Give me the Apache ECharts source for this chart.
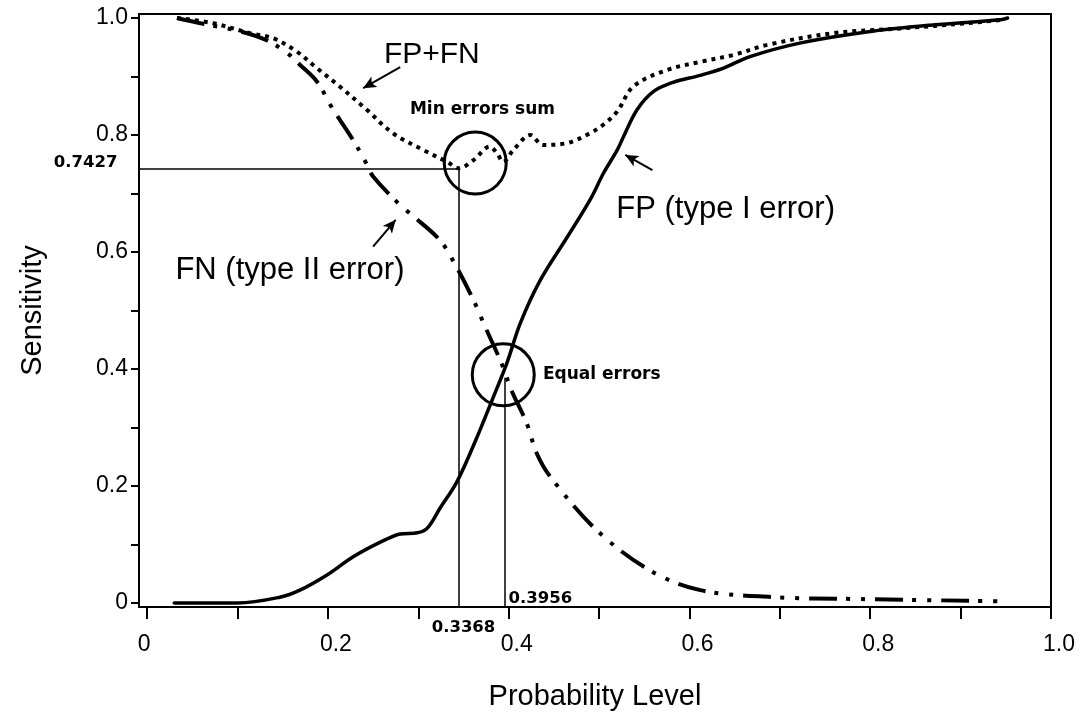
<!DOCTYPE html>
<html>
<head>
<meta charset="utf-8">
<script src="https://cdn.jsdelivr.net/npm/echarts@6/dist/echarts.min.js"></script>
<style>
    html, body { margin: 0; padding: 0; background: #fff; }
    #chart { width: 1080px; height: 724px; }
</style>
</head>
<body>
<div id="chart"></div>
<script>
// ticks / labels
var xTicks = [0, 0.1, 0.2, 0.3, 0.4, 0.5, 0.6, 0.7, 0.8, 0.9, 1.0];
var xLabels = [0, 0.2, 0.4, 0.6, 0.8, 1.0];
var yTicks = [0, 0.1, 0.2, 0.3, 0.4, 0.5, 0.6, 0.7, 0.8, 0.9, 1.0];
var yLabels = [0, 0.2, 0.4, 0.6, 0.8, 1.0];

// FP (type I error) - solid
var fpX = [0.03, 0.10, 0.147, 0.169, 0.199, 0.228, 0.258, 0.280, 0.299, 0.310, 0.324, 0.343, 0.364, 0.383, 0.398, 0.413, 0.435, 0.465, 0.490, 0.505, 0.520, 0.527, 0.542, 0.560, 0.582, 0.612, 0.637, 0.667, 0.722, 0.796, 0.869, 0.944, 0.952];
var fpY = [0, 0, 0.010, 0.022, 0.048, 0.079, 0.104, 0.118, 0.120, 0.128, 0.162, 0.208, 0.280, 0.352, 0.410, 0.479, 0.552, 0.626, 0.689, 0.735, 0.774, 0.797, 0.843, 0.874, 0.890, 0.902, 0.914, 0.934, 0.957, 0.976, 0.988, 0.997, 1.0];

// FN (type II error) - dash dot dot
var fnX = [0.033, 0.059, 0.103, 0.132, 0.155, 0.169, 0.188, 0.204, 0.228, 0.243, 0.250, 0.280, 0.293, 0.324, 0.341, 0.361, 0.374, 0.392, 0.403, 0.420, 0.431, 0.446, 0.497, 0.556, 0.612, 0.695, 0.778, 0.947];
var fnY = [1.0, 0.991, 0.977, 0.962, 0.940, 0.920, 0.891, 0.848, 0.791, 0.750, 0.729, 0.680, 0.663, 0.620, 0.578, 0.518, 0.472, 0.410, 0.364, 0.307, 0.256, 0.216, 0.125, 0.056, 0.022, 0.010, 0.007, 0.003];

// FP+FN - dotted
var sumX = [0.033, 0.073, 0.114, 0.140, 0.166, 0.188, 0.213, 0.243, 0.272, 0.306, 0.332, 0.345, 0.361, 0.379, 0.387, 0.394, 0.405, 0.424, 0.438, 0.464, 0.490, 0.505, 0.520, 0.538, 0.575, 0.612, 0.649, 0.686, 0.759, 0.833, 0.907, 0.947];
var sumY = [1.0, 0.991, 0.974, 0.965, 0.942, 0.914, 0.883, 0.843, 0.803, 0.774, 0.754, 0.743, 0.757, 0.780, 0.769, 0.754, 0.774, 0.800, 0.783, 0.786, 0.803, 0.818, 0.840, 0.883, 0.911, 0.925, 0.937, 0.954, 0.974, 0.982, 0.991, 0.997];

// guide lines
var minSumX = 0.345, minSumY = 0.7427;
var equalX = 0.3956, equalY = 0.385;

// circles
var circleX = [0.363, 0.394];
var circleY = [0.752, 0.390];

// arrows [tailX, tailY, headX, headY]
var arrows = [
    [0.280, 0.916, 0.239, 0.880],
    [0.250, 0.609, 0.275, 0.655],
    [0.559, 0.740, 0.529, 0.766]
];

// text notes
var noteText = ['FP+FN', 'FN (type II error)', 'FP (type I error)', 'Min errors sum', 'Equal errors', '0.7427', '0.3368', '0.3956'];
var noteX = [0.315, 0.158, 0.640, 0.371, 0.503, -0.068, 0.350, 0.435];
var noteY = [0.937, 0.569, 0.672, 0.843, 0.390, 0.752, -0.043, 0.007];
var noteSize = [30, 31, 31, 17, 17, 16.5, 16.5, 16.5];

var X_MIN = -0.009, X_MAX = 1.0;
var Y_MIN = -0.0068, Y_MAX = 1.0068;

function zip(xs, ys) {
    return xs.map(function (x, i) { return [x, ys[i]]; });
}

var myChart = echarts.init(document.getElementById('chart'), null, { renderer: 'canvas' });

var sansFont = 'Liberation Sans, Arial, sans-serif';
var boldFont = 'DejaVu Sans, sans-serif';

var noteData = noteText.map(function (t, i) {
    var bold = noteSize[i] < 20;
    return {
        value: [noteX[i], noteY[i]],
        label: {
            show: true,
            formatter: t,
            position: 'inside',
            color: '#000',
            opacity: 1,
            fontFamily: bold ? boldFont : sansFont,
            fontWeight: bold ? 'bold' : 'normal',
            fontSize: noteSize[i]
        }
    };
});

var option = {
    animation: false,
    backgroundColor: '#fff',
    grid: {
        left: 139,
        right: 29,
        top: 14,
        bottom: 117,
        containLabel: false,
        outerBoundsMode: 'none',
        show: true,
        borderColor: '#000',
        borderWidth: 2
    },
    xAxis: {
        type: 'value',
        min: X_MIN,
        max: X_MAX,
        name: 'Probability Level',
        nameLocation: 'middle',
        nameGap: 75,
        nameTextStyle: { fontFamily: sansFont, fontSize: 29, color: '#000' },
        axisLine: { show: true, onZero: false, lineStyle: { color: '#000', width: 2 } },
        axisTick: {
            show: true, inside: false, length: 12,
            customValues: xTicks,
            lineStyle: { color: '#000', width: 2 }
        },
        axisLabel: {
            customValues: xLabels,
            margin: 26,
            fontFamily: sansFont,
            fontSize: 23,
            color: '#000',
            formatter: function (v) {
                return v === 0 ? '{z|0}' : '{n|' + v.toFixed(1) + '}';
            },
            rich: {
                z: { fontFamily: sansFont, fontSize: 23, color: '#000', padding: [0, 6, 0, 0] },
                n: { fontFamily: sansFont, fontSize: 23, color: '#000', padding: [0, 0, 0, 16] }
            }
        },
        splitLine: { show: false }
    },
    yAxis: {
        type: 'value',
        min: Y_MIN,
        max: Y_MAX,
        name: 'Sensitivity',
        nameLocation: 'middle',
        nameGap: 92,
        nameTextStyle: { fontFamily: sansFont, fontSize: 29, color: '#000' },
        axisLine: { show: true, onZero: false, lineStyle: { color: '#000', width: 2 } },
        axisTick: {
            show: true, inside: false, length: 8,
            customValues: yTicks,
            lineStyle: { color: '#000', width: 2 }
        },
        axisLabel: {
            customValues: yLabels,
            margin: 11,
            fontFamily: sansFont,
            fontSize: 23,
            color: '#000',
            formatter: function (v) { return v === 0 ? '0' : v.toFixed(1); }
        },
        splitLine: { show: false }
    },
    series: [
        {
            name: 'FP',
            type: 'line',
            data: zip(fpX, fpY),
            smooth: 0.35,
            symbol: 'none',
            lineStyle: { color: '#000', width: 3.5, cap: 'round' },
            z: 5
        },
        {
            name: 'FN',
            type: 'line',
            data: zip(fnX, fnY),
            smooth: 0.35,
            symbol: 'none',
            lineStyle: { color: '#000', width: 4, type: [28, 9, 4, 11, 4, 10], cap: 'butt' },
            z: 5
        },
        {
            name: 'FP+FN',
            type: 'line',
            data: zip(sumX, sumY),
            smooth: 0.35,
            symbol: 'none',
            lineStyle: { color: '#000', width: 4, type: [4, 5], cap: 'butt' },
            z: 5
        },
        {
            // guide lines and arrows
            name: 'guides',
            type: 'line',
            data: [],
            symbol: 'none',
            markLine: {
                silent: true,
                animation: false,
                symbol: 'none',
                label: { show: false },
                lineStyle: { color: '#000', width: 1.5, type: 'solid', opacity: 1 },
                data: [
                    [{ coord: [X_MIN, minSumY] }, { coord: [minSumX, minSumY] }],
                    [{ coord: [minSumX, minSumY] }, { coord: [minSumX, Y_MIN] }],
                    [{ coord: [equalX, equalY] }, { coord: [equalX, Y_MIN] }]
                ].concat(arrows.map(function (a) {
                    return [
                        { coord: [a[0], a[1]], symbol: 'none' },
                        { coord: [a[2], a[3]], symbol: 'arrow', symbolSize: [9, 13], lineStyle: { width: 2 } }
                    ];
                }))
            }
        },
        {
            name: 'circles',
            type: 'scatter',
            data: zip(circleX, circleY),
            symbol: 'circle',
            symbolSize: 62,
            itemStyle: { color: 'rgba(0,0,0,0)', borderColor: '#000', borderWidth: 3, opacity: 1 },
            z: 6
        },
        {
            name: 'notes',
            type: 'scatter',
            data: noteData,
            symbolSize: 1,
            clip: false,
            itemStyle: { color: 'rgba(0,0,0,0)', opacity: 1 },
            z: 7
        }
    ]
};

myChart.setOption(option);
</script>
</body>
</html>
